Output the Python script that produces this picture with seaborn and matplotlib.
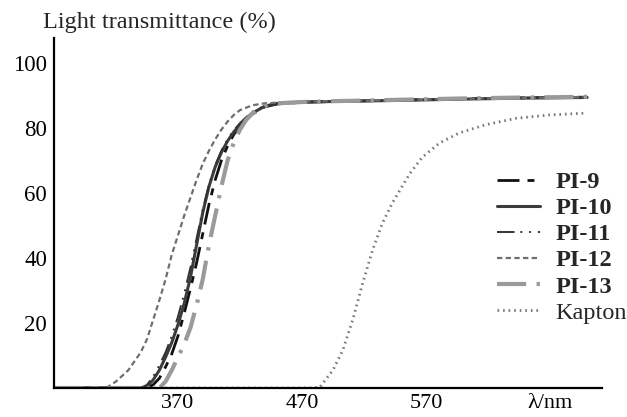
import matplotlib
matplotlib.use("Agg")
import matplotlib.pyplot as plt
import seaborn as sns
import pandas as pd

# ---- data ----
pi9_wl = [270, 345, 350, 355, 360, 365, 370, 375, 380, 385, 390, 395, 400, 405, 410, 415, 420, 425, 430, 440, 450, 470, 500, 550, 600, 650, 700]
pi9_t = [0, 0, 1, 3, 6.5, 10.5, 16, 23, 30.5, 38.5, 47.5, 56.5, 64, 70, 74.5, 78, 80.5, 82.5, 84.3, 86.5, 87.4, 87.9, 88.2, 88.6, 89, 89.3, 89.5]

pi10_wl = [270, 340, 345, 350, 355, 360, 365, 370, 375, 380, 385, 390, 395, 400, 405, 410, 415, 420, 425, 430, 440, 450, 470, 500, 550, 600, 650, 700]
pi10_t = [0, 0, 0.5, 2.5, 5.5, 9.5, 14, 19.5, 26, 34, 44, 54, 62, 68, 72.5, 76, 78.8, 81, 83, 84.6, 86.7, 87.5, 88, 88.2, 88.5, 88.9, 89.2, 89.4]

pi11_wl = [270, 340, 345, 350, 355, 360, 365, 370, 375, 380, 385, 390, 395, 400, 405, 410, 415, 420, 425, 430, 440, 450, 470, 500, 550, 600, 650, 700]
pi11_t = [0, 0, 1, 3.5, 7, 11, 16, 22, 29, 37, 46, 55, 62.5, 68.5, 73, 76.5, 79.3, 81.5, 83.3, 85, 86.9, 87.6, 88, 88.2, 88.6, 89, 89.3, 89.5]

pi12_wl = [270, 312, 320, 330, 340, 345, 350, 355, 360, 365, 370, 375, 380, 385, 390, 395, 400, 405, 410, 415, 420, 430, 440, 460, 500, 550, 600, 650, 700]
pi12_t = [0, 0, 2, 5.5, 11, 15, 21, 27, 33.5, 41, 47, 53, 58.5, 64, 69, 73, 76.5, 79.5, 82, 84, 85.5, 87, 87.6, 88, 88.3, 88.6, 89, 89.3, 89.5]

pi13_wl = [270, 355, 360, 365, 370, 375, 380, 385, 390, 395, 400, 405, 410, 415, 420, 425, 430, 440, 450, 470, 500, 550, 600, 650, 700]
pi13_t = [0, 0, 2, 5.5, 9.5, 13.5, 18.5, 25.5, 33.5, 44, 53, 62, 70, 75.5, 79.5, 82.5, 84.5, 86.8, 87.6, 88, 88.3, 88.7, 89.1, 89.4, 89.6]

kapton_wl = [270, 478, 484.5, 495, 503, 511, 519, 527, 535, 543, 550, 557, 567, 581, 597, 618, 643, 669, 700]
kapton_t = [0, 0, 0.3, 5.5, 11.7, 21, 32.3, 42.5, 50.8, 57, 61.5, 66, 71, 75.4, 78.5, 81, 83, 84, 84.6]

x_ticks = [370, 470, 570, 670]
x_ticklabels = ["370", "470", "570", "λ/nm"]
y_ticks = [20, 40, 60, 80, 100]

series = [
    ("PI-9", pi9_wl, pi9_t),
    ("PI-10", pi10_wl, pi10_t),
    ("PI-11", pi11_wl, pi11_t),
    ("PI-12", pi12_wl, pi12_t),
    ("PI-13", pi13_wl, pi13_t),
    ("Kapton", kapton_wl, kapton_t),
]

styles = {
    "PI-9": dict(color="#111111", lw=2.0, ls=(0, (7.9, 2.9, 2.5, 2.9))),
    "PI-10": dict(color="#3c3c3c", lw=2.2, ls="-"),
    "PI-11": dict(color="#333333", lw=1.4, ls=(0, (9, 3, 1, 3.5, 1, 3.5))),
    "PI-12": dict(color="#6e6e6e", lw=1.6, ls=(0, (2.4, 1.5))),
    "PI-13": dict(color="#9a9a9a", lw=3.0, ls=(0, (7, 2.5, 0.8, 2.5))),
    "Kapton": dict(color="#7a7a7a", lw=2.0, ls=(0, (0.6, 1.4))),
}

sns.set_style("white")
plt.rcParams["font.family"] = ["Liberation Serif", "DejaVu Serif"]

fig = plt.figure(figsize=(6.27, 4.17), dpi=100)
ax = fig.add_axes([54 / 627, (417 - 388) / 417, (602 - 54) / 627, (388 - 38) / 417])

for name, wl, t in series:
    df = pd.DataFrame({"wl": wl, "t": t})
    st = styles[name]
    sns.lineplot(data=df, x="wl", y="t", ax=ax, color=st["color"], lw=st["lw"],
                 linestyle=st["ls"], label=name, sort=False, estimator=None)

ax.set_xlim(270, 712)
ax.set_ylim(0, 107.7)
ax.set_xticks(x_ticks)
ax.set_xticklabels(x_ticklabels)
ax.set_yticks(y_ticks)
ax.set_xlabel("")
ax.set_ylabel("")
for s in ["top", "right"]:
    ax.spines[s].set_visible(False)
for s in ["left", "bottom"]:
    ax.spines[s].set_color("black")
    ax.spines[s].set_linewidth(1.6)
ax.tick_params(direction="in", length=6, width=1.4, colors="black", labelsize=16.5, pad=5)
ax.tick_params(axis="x", labelsize=16, pad=4)

leg = ax.legend(loc="upper left", bbox_to_anchor=((497 - 54) / 548, (388 - 171) / 350), frameon=False,
                fontsize=17.5, handlelength=1.77, handletextpad=0.62, labelspacing=0.17,
                borderaxespad=0, borderpad=0)
for txt in leg.get_texts():
    if txt.get_text().startswith("PI"):
        txt.set_fontweight("bold")

fig.text(43 / 627, 1 - 22 / 417, "Light transmittance (%)", ha="left", va="center", fontsize=17.5)

fig.savefig("out.png", dpi=100)
